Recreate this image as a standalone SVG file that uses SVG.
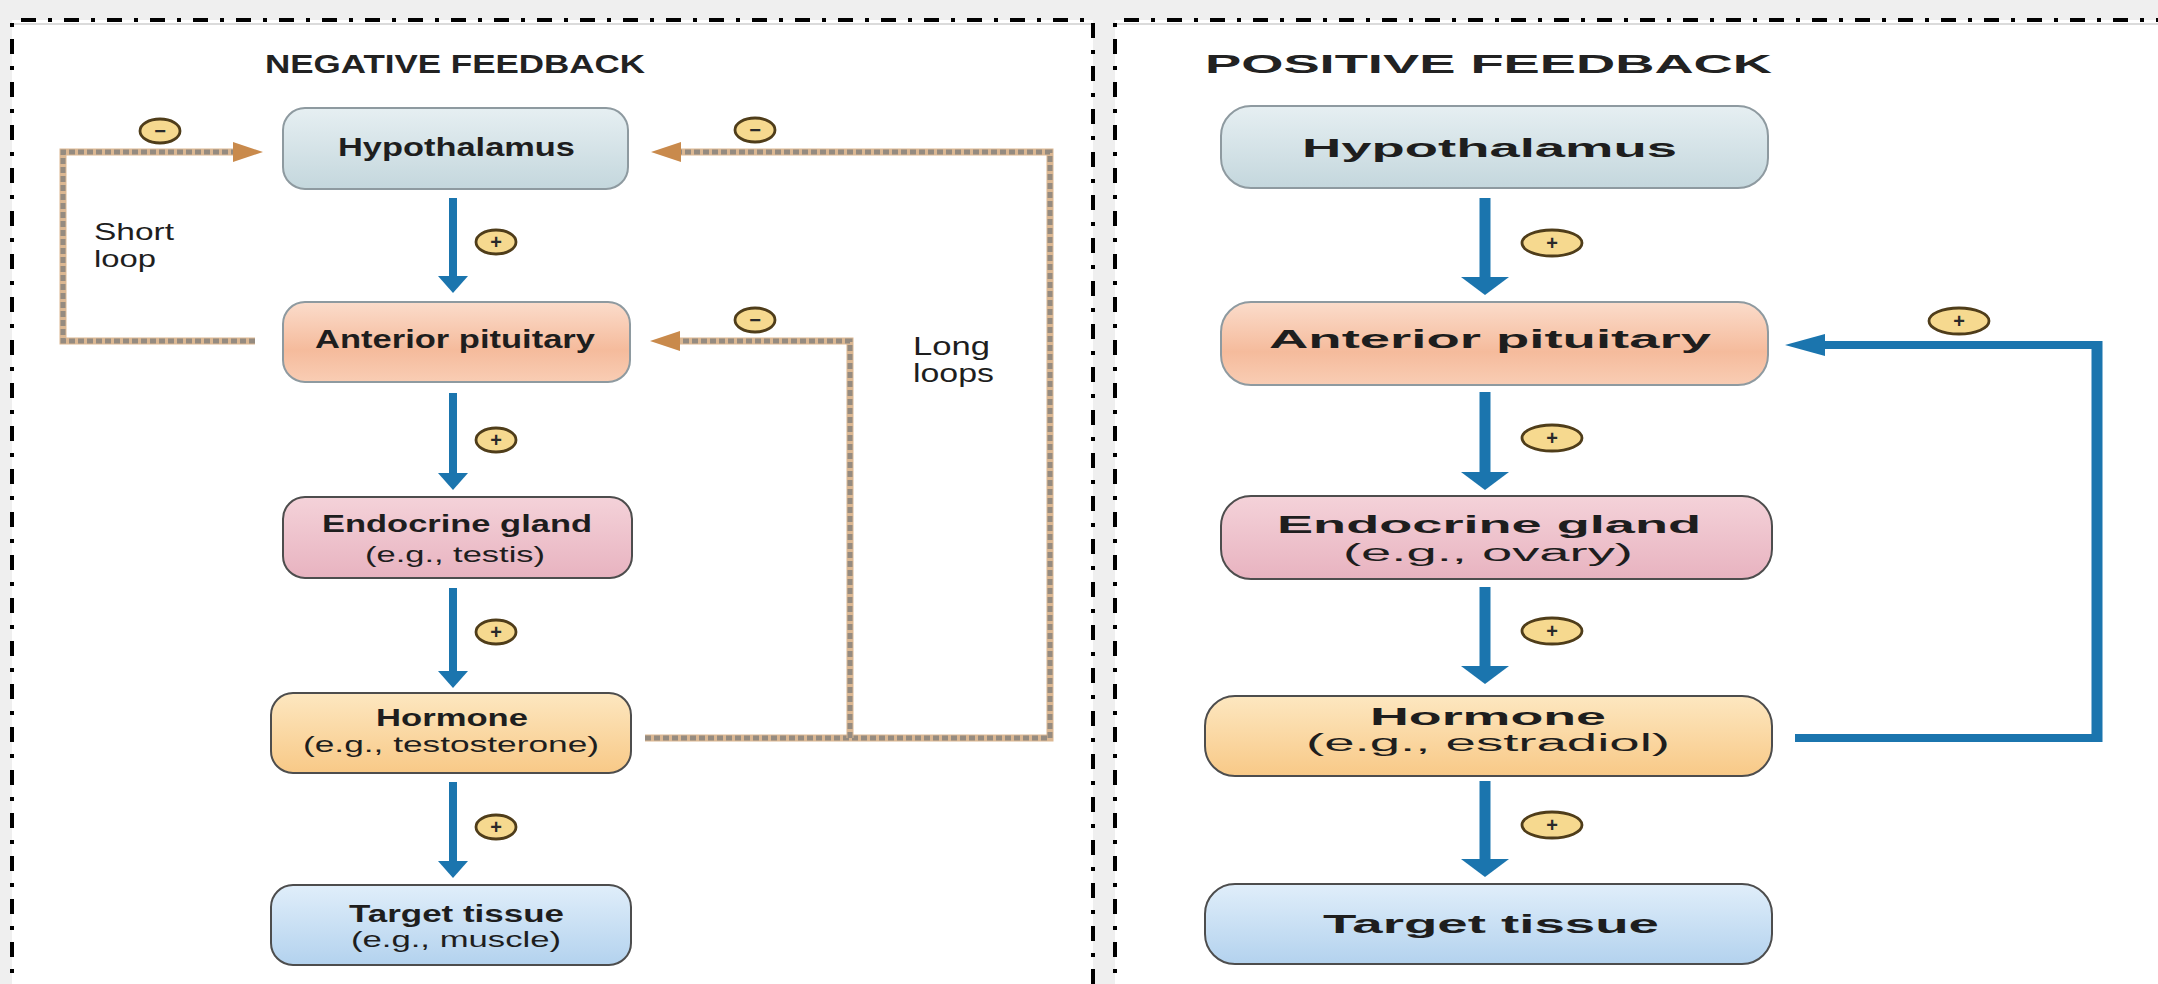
<svg xmlns="http://www.w3.org/2000/svg" width="2158" height="984" viewBox="0 0 2158 984">
<defs>
<linearGradient id="gHypo" x1="0" y1="0" x2="0" y2="1"><stop offset="0" stop-color="#e6eff2"/><stop offset="1" stop-color="#c4d7dd"/></linearGradient>
<linearGradient id="gAP" x1="0" y1="0" x2="0" y2="1"><stop offset="0" stop-color="#fbdccb"/><stop offset="0.6" stop-color="#f5bb9c"/><stop offset="1" stop-color="#f9cdb4"/></linearGradient>
<linearGradient id="gEG" x1="0" y1="0" x2="0" y2="1"><stop offset="0" stop-color="#f4d2d9"/><stop offset="1" stop-color="#e8b3c0"/></linearGradient>
<linearGradient id="gHo" x1="0" y1="0" x2="0" y2="1"><stop offset="0" stop-color="#fde7c0"/><stop offset="1" stop-color="#f8c987"/></linearGradient>
<linearGradient id="gTT" x1="0" y1="0" x2="0" y2="1"><stop offset="0" stop-color="#e0eefa"/><stop offset="1" stop-color="#b3d2ee"/></linearGradient>
</defs>
<style>
.bg{fill:#efefef}
.panel{fill:#ffffff}
.border{fill:none;stroke:#000;stroke-width:4;stroke-dasharray:15 12 4 12}
.node-a{stroke:#8e9aa0;stroke-width:2}
.node-b{stroke:#4d4d4d;stroke-width:2}
.t{font-family:"Liberation Sans",Arial,sans-serif;fill:#1e1e1e}
.b{font-weight:bold}
.title{font-family:"Liberation Sans",Arial,sans-serif;font-weight:bold;fill:#222;font-size:25px}
.blue{stroke:#1b75ae;stroke-width:8;fill:none}
.blue-w{stroke:#1b75ae;stroke-width:11;fill:none}
.bluehead{fill:#1b75ae}
.fbase{stroke:#dbb792;stroke-width:7;fill:none}
.fdash{stroke:#958b80;stroke-width:5;stroke-dasharray:6 3;fill:none}
.fhead{fill:#c98a4c}
.badge{fill:#f6d98f;stroke:#4f3d1a;stroke-width:2.8}
.sym{font-family:"Liberation Sans",Arial,sans-serif;font-weight:bold;font-size:20px;fill:#2a2a2a;text-anchor:middle}
</style>

<rect class="bg" x="0" y="0" width="2158" height="984"/>
<g id="panel-negative">
<rect class="panel" x="12" y="20" width="1081" height="980"/>
<path class="border" d="M12 1000 V20 H1093 V1000"/>
<line x1="14" y1="24" x2="1091" y2="24" stroke="#cfcfcf" stroke-width="1.5"/>
<text class="title" x="265" y="73" textLength="380" lengthAdjust="spacingAndGlyphs">NEGATIVE FEEDBACK</text>
</g>
<g id="panel-positive">
<rect class="panel" x="1115" y="20" width="1050" height="980"/>
<path class="border" d="M1115 1000 V20 H2170"/>
<line x1="1117" y1="24" x2="2158" y2="24" stroke="#cfcfcf" stroke-width="1.5"/>
<text class="title" x="1205" y="73" textLength="567" lengthAdjust="spacingAndGlyphs">POSITIVE FEEDBACK</text>
</g>

<g id="connectors">
<g id="neg-arrows">
<line class="blue" x1="453" y1="198" x2="453" y2="278"/><polygon class="bluehead" points="438,276 468,276 453,293"/>
<line class="blue" x1="453" y1="393" x2="453" y2="475"/><polygon class="bluehead" points="438,473 468,473 453,490"/>
<line class="blue" x1="453" y1="588" x2="453" y2="673"/><polygon class="bluehead" points="438,671 468,671 453,688"/>
<line class="blue" x1="453" y1="782" x2="453" y2="863"/><polygon class="bluehead" points="438,861 468,861 453,878"/>
</g>
<g id="short-loop">
<path class="fbase" d="M255 341 H63 V152 H236"/>
<path class="fdash" d="M255 341 H63 V152 H236"/>
<polygon class="fhead" points="233,142 263,152 233,162"/>
</g>
<g id="long-loops">
<path class="fbase" d="M645 738 H1050 V152 H678"/>
<path class="fdash" d="M645 738 H1050 V152 H678"/>
<polygon class="fhead" points="681,142 651,152 681,162"/>
<path class="fbase" d="M850 738 V341 H677"/>
<path class="fdash" d="M850 738 V341 H677"/>
<polygon class="fhead" points="680,331 650,341 680,351"/>
</g>
<g id="pos-arrows">
<line class="blue-w" x1="1485" y1="198" x2="1485" y2="279"/><polygon class="bluehead" points="1461,277 1509,277 1485,295"/>
<line class="blue-w" x1="1485" y1="392" x2="1485" y2="474"/><polygon class="bluehead" points="1461,472 1509,472 1485,490"/>
<line class="blue-w" x1="1485" y1="587" x2="1485" y2="668"/><polygon class="bluehead" points="1461,666 1509,666 1485,684"/>
<line class="blue-w" x1="1485" y1="781" x2="1485" y2="861"/><polygon class="bluehead" points="1461,859 1509,859 1485,877"/>
</g>
<g id="pos-loop">
<path class="blue" d="M1795 738 H2097"/>
<path class="blue-w" d="M2097 742 V341"/>
<path class="blue" d="M2102 345 H1820"/>
<polygon class="bluehead" points="1825,334 1785,345 1825,356"/>
</g>
</g>

<g id="badges">
<g><ellipse class="badge" cx="496" cy="242" rx="20" ry="12"/><text class="sym" x="496" y="249">+</text></g>
<g><ellipse class="badge" cx="496" cy="440" rx="20" ry="12"/><text class="sym" x="496" y="447">+</text></g>
<g><ellipse class="badge" cx="496" cy="632" rx="20" ry="12"/><text class="sym" x="496" y="639">+</text></g>
<g><ellipse class="badge" cx="496" cy="827" rx="20" ry="12"/><text class="sym" x="496" y="834">+</text></g>
<g><ellipse class="badge" cx="160" cy="131" rx="20" ry="12"/><text class="sym" x="160" y="138" fill="#7a2e2e">−</text></g>
<g><ellipse class="badge" cx="755" cy="130" rx="20" ry="12"/><text class="sym" x="755" y="137" fill="#7a2e2e">−</text></g>
<g><ellipse class="badge" cx="755" cy="320" rx="20" ry="12"/><text class="sym" x="755" y="327" fill="#7a2e2e">−</text></g>
<g><ellipse class="badge" cx="1552" cy="243" rx="30" ry="13"/><text class="sym" x="1552" y="250">+</text></g>
<g><ellipse class="badge" cx="1552" cy="438" rx="30" ry="13"/><text class="sym" x="1552" y="445">+</text></g>
<g><ellipse class="badge" cx="1552" cy="631" rx="30" ry="13"/><text class="sym" x="1552" y="638">+</text></g>
<g><ellipse class="badge" cx="1552" cy="825" rx="30" ry="13"/><text class="sym" x="1552" y="832">+</text></g>
<g><ellipse class="badge" cx="1959" cy="321" rx="30" ry="13"/><text class="sym" x="1959" y="328">+</text></g>
</g>

<g id="labels">
<text class="t" font-size="24" x="94" y="240" textLength="80" lengthAdjust="spacingAndGlyphs">Short</text>
<text class="t" font-size="24" x="94" y="267" textLength="62" lengthAdjust="spacingAndGlyphs">loop</text>
<text class="t" font-size="26" x="913" y="355" textLength="77" lengthAdjust="spacingAndGlyphs">Long</text>
<text class="t" font-size="26" x="913" y="382" textLength="81" lengthAdjust="spacingAndGlyphs">loops</text>
</g>

<g id="neg-hypothalamus"><rect class="node-a" x="283" y="108" width="345" height="81" rx="22" fill="url(#gHypo)"/><text class="t b" font-size="25" x="338" y="156" textLength="237" lengthAdjust="spacingAndGlyphs">Hypothalamus</text></g>
<g id="neg-anterior-pituitary"><rect class="node-a" x="283" y="302" width="347" height="80" rx="22" fill="url(#gAP)"/><text class="t b" font-size="25" x="315" y="348" textLength="280" lengthAdjust="spacingAndGlyphs">Anterior pituitary</text></g>
<g id="neg-endocrine-gland"><rect class="node-b" x="283" y="497" width="349" height="81" rx="22" fill="url(#gEG)"/><text class="t b" font-size="23" x="322" y="532" textLength="270" lengthAdjust="spacingAndGlyphs">Endocrine gland</text><text class="t" font-size="22" x="365" y="562" textLength="180" lengthAdjust="spacingAndGlyphs">(e.g., testis)</text></g>
<g id="neg-hormone"><rect class="node-b" x="271" y="693" width="360" height="80" rx="22" fill="url(#gHo)"/><text class="t b" font-size="23" x="376" y="726" textLength="152" lengthAdjust="spacingAndGlyphs">Hormone</text><text class="t" font-size="22" x="303" y="752" textLength="296" lengthAdjust="spacingAndGlyphs">(e.g., testosterone)</text></g>
<g id="neg-target-tissue"><rect class="node-b" x="271" y="885" width="360" height="80" rx="22" fill="url(#gTT)"/><text class="t b" font-size="23" x="349" y="922" textLength="215" lengthAdjust="spacingAndGlyphs">Target tissue</text><text class="t" font-size="22" x="351" y="947" textLength="210" lengthAdjust="spacingAndGlyphs">(e.g., muscle)</text></g>

<g id="pos-hypothalamus"><rect class="node-a" x="1221" y="106" width="547" height="82" rx="30" fill="url(#gHypo)"/><text class="t b" font-size="25" x="1302" y="157" textLength="375" lengthAdjust="spacingAndGlyphs">Hypothalamus</text></g>
<g id="pos-anterior-pituitary"><rect class="node-a" x="1221" y="302" width="547" height="83" rx="30" fill="url(#gAP)"/><text class="t b" font-size="25" x="1269" y="348" textLength="442" lengthAdjust="spacingAndGlyphs">Anterior pituitary</text></g>
<g id="pos-endocrine-gland"><rect class="node-b" x="1221" y="496" width="551" height="83" rx="30" fill="url(#gEG)"/><text class="t b" font-size="24" x="1277" y="533" textLength="424" lengthAdjust="spacingAndGlyphs">Endocrine gland</text><text class="t" font-size="23" x="1343" y="561" textLength="290" lengthAdjust="spacingAndGlyphs">(e.g., ovary)</text></g>
<g id="pos-hormone"><rect class="node-b" x="1205" y="696" width="567" height="80" rx="30" fill="url(#gHo)"/><text class="t b" font-size="23" x="1370" y="725" textLength="236" lengthAdjust="spacingAndGlyphs">Hormone</text><text class="t" font-size="23" x="1306" y="751" textLength="364" lengthAdjust="spacingAndGlyphs">(e.g., estradiol)</text></g>
<g id="pos-target-tissue"><rect class="node-b" x="1205" y="884" width="567" height="80" rx="30" fill="url(#gTT)"/><text class="t b" font-size="25" x="1323" y="933" textLength="336" lengthAdjust="spacingAndGlyphs">Target tissue</text></g>
</svg>
